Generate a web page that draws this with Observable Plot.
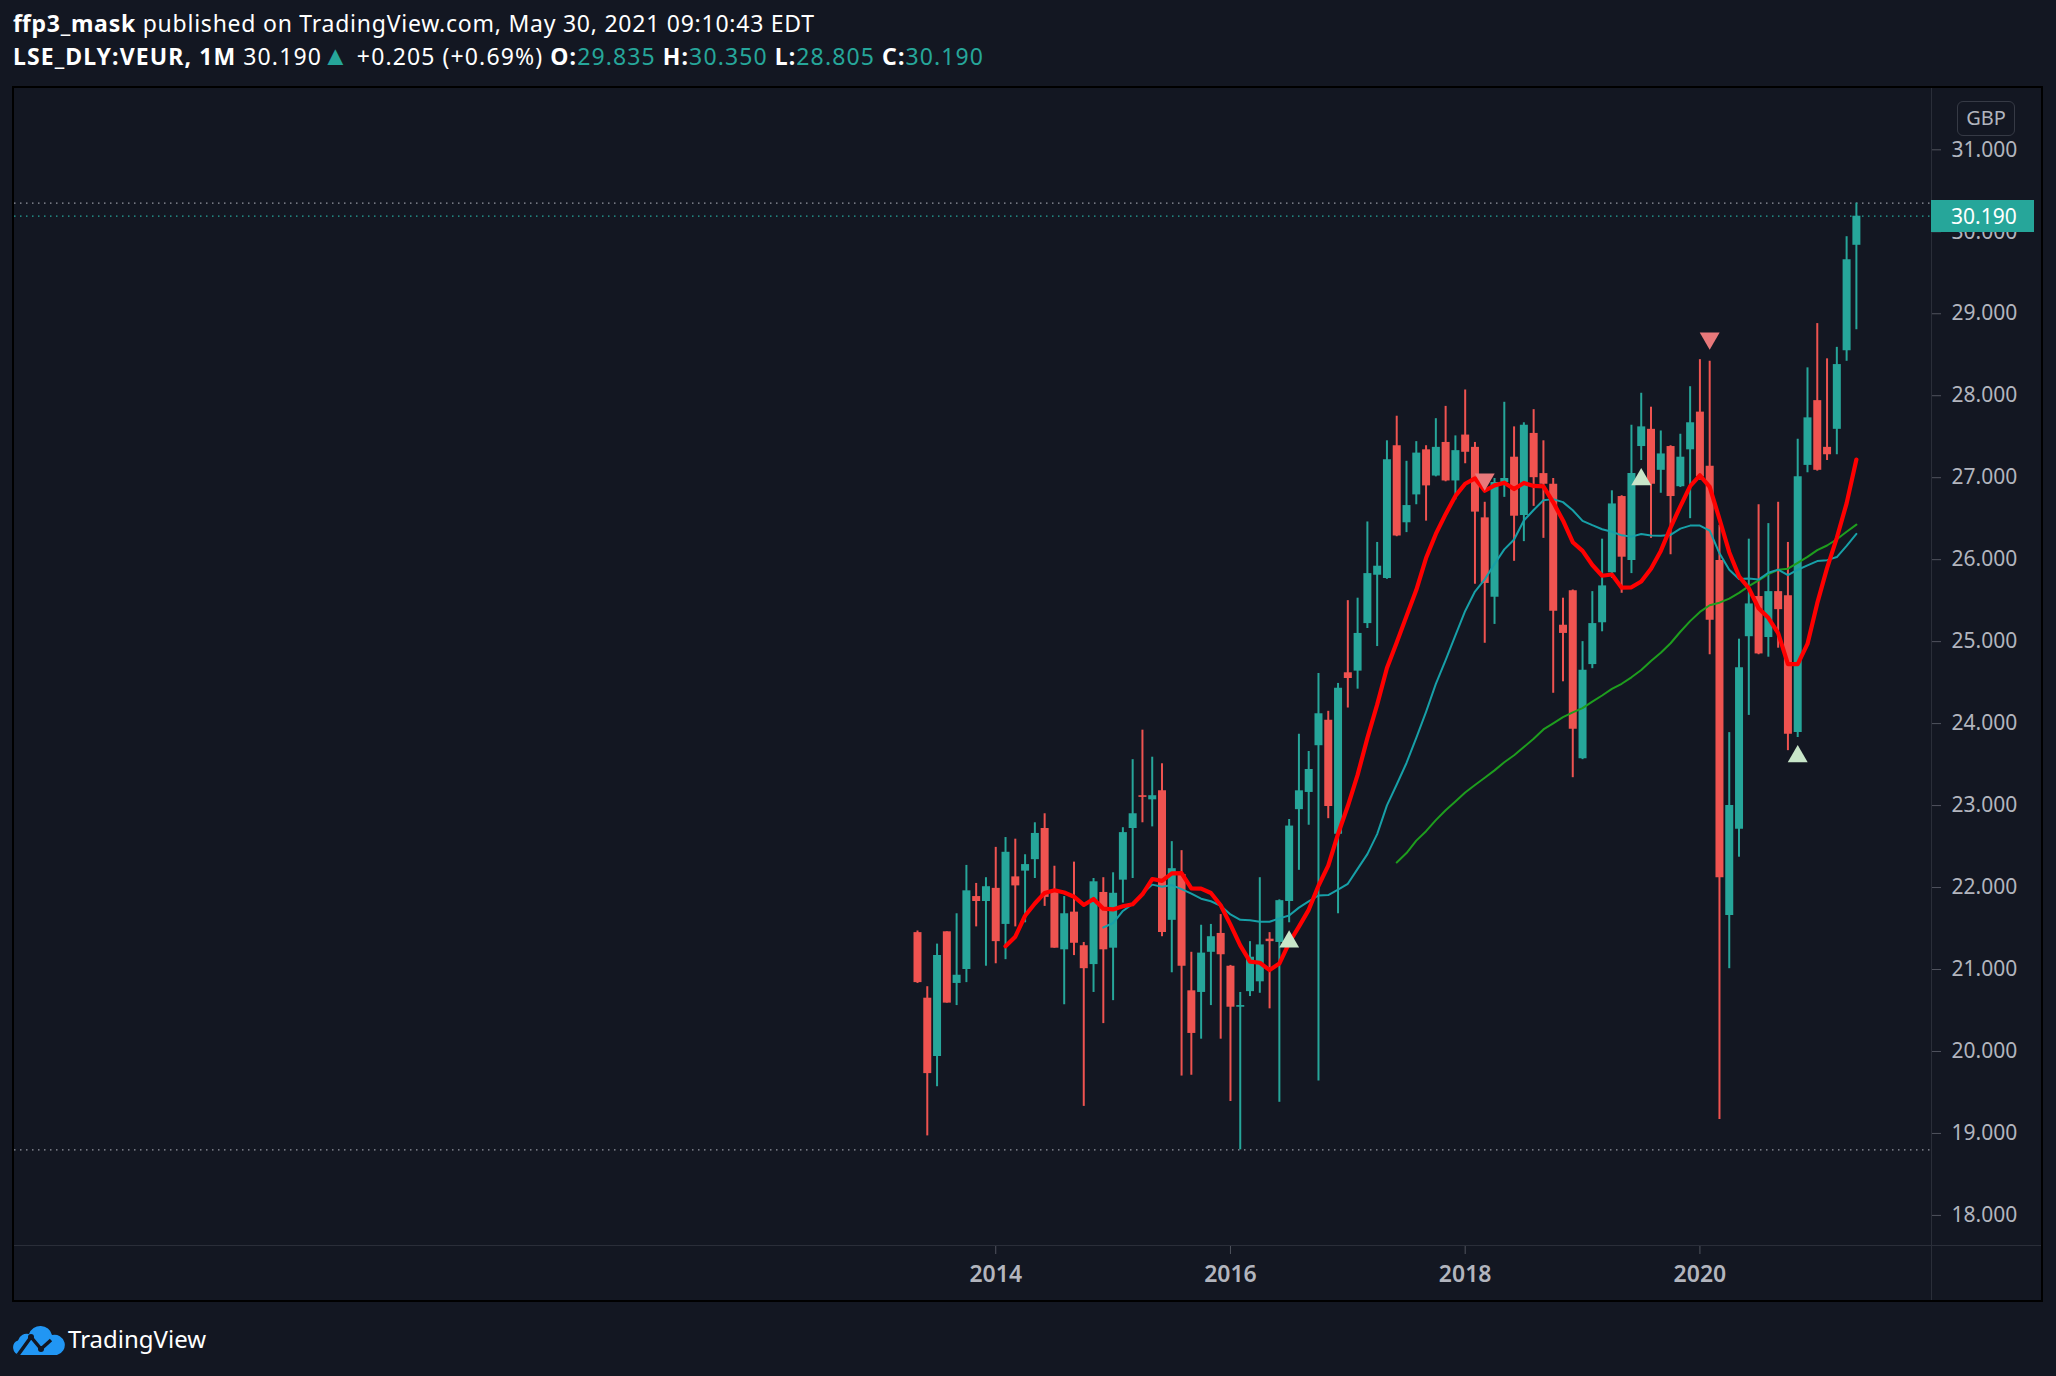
<!DOCTYPE html>
<html><head><meta charset="utf-8">
<script src="https://cdn.jsdelivr.net/npm/d3@7"></script>
<script src="https://cdn.jsdelivr.net/npm/@observablehq/plot@0.6"></script>
<style>
html,body{margin:0;padding:0;background:#131722;}
body{width:2056px;height:1376px;position:relative;overflow:hidden;font-family:"Noto Sans","Open Sans",sans-serif;}
#hdr{position:absolute;left:0;top:0;}
#frame{position:absolute;left:12px;top:86px;width:2031px;height:1216px;border:2px solid #000;box-sizing:border-box;}
#chart{position:absolute;left:14px;top:88px;}
.sepV{position:absolute;left:1931px;top:88px;width:1px;height:1212px;background:#2a2e39;}
.sepH{position:absolute;left:14px;top:1245px;width:2027px;height:1px;background:#2a2e39;}
#gbp{position:absolute;left:1957px;top:101px;width:58px;height:35px;box-sizing:border-box;border:1.5px solid #363a45;border-radius:6px;color:#b2b5be;font-size:20px;line-height:32px;text-align:center;}
#last{position:absolute;left:1931px;width:103px;height:32px;background:#26a69a;color:#fff;font-size:21px;line-height:32px;box-sizing:border-box;padding-left:20px;}
#logo{position:absolute;left:13px;top:1322px;}
#chart svg [aria-label="x-axis tick label"] text{font-weight:600;}
</style>
</head><body>
<svg id="hdr" width="2056" height="80" style="white-space:pre">
  <text x="13" y="32" font-size="23" fill="#ffffff" textLength="801" lengthAdjust="spacing" font-family="Noto Sans, Open Sans, sans-serif"><tspan font-weight="700">ffp3_mask</tspan> published on TradingView.com, May 30, 2021 09:10:43 EDT</text>
  <text x="13" y="65" font-size="23" fill="#ffffff" textLength="970" lengthAdjust="spacing" font-family="Noto Sans, Open Sans, sans-serif"><tspan font-weight="700">LSE_DLY:VEUR, 1M</tspan>  30.190<tspan fill="#26a69a" font-size="27">▲</tspan> +0.205 (+0.69%) <tspan font-weight="700">O:</tspan><tspan fill="#26a69a">29.835</tspan> <tspan font-weight="700">H:</tspan><tspan fill="#26a69a">30.350</tspan> <tspan font-weight="700">L:</tspan><tspan fill="#26a69a">28.805</tspan> <tspan font-weight="700">C:</tspan><tspan fill="#26a69a">30.190</tspan></text>
</svg>
<div id="frame"></div>
<div id="chart"></div>
<div class="sepV"></div>
<div class="sepH"></div>
<div id="gbp">GBP</div>
<div id="last"></div>
<svg id="logo" width="200" height="40">
  <path fill="#2196f3" d="M7 33 A7.5 7.5 0 0 1 5 18.5 A9 9 0 0 1 16 12 A12 12 0 0 1 39 13 A10 10 0 0 1 44 33 Z"/>
  <polyline points="5,33 18,15 28,27 38,18" fill="none" stroke="#131722" stroke-width="3.5" stroke-linejoin="round"/>
  <circle cx="18" cy="15" r="3" fill="#131722"/>
  <circle cx="28" cy="27" r="3" fill="#131722"/>
  <text x="55" y="26" font-size="24" fill="#ffffff" font-family="Noto Sans, Open Sans, sans-serif">TradingView</text>
</svg>
<script>
// Monthly bars of LSE_DLY:VEUR, first bar = May 2013
const startYear = 2013, startMonth = 5;
const open  = [21.45,20.65,19.94,21.46,20.83,21.00,21.89,21.83,21.99,21.55,
               22.13,22.20,22.34,22.72,21.95,21.24,21.70,21.29,21.06,21.94,
               21.26,22.09,22.72,23.12,23.07,23.18,21.60,22.16,20.74,20.72,
               21.21,21.44,21.04,20.54,20.73,20.85,21.37,21.33,21.83,22.95,
               23.16,23.73,24.04,22.65,24.62,24.64,25.22,25.81,25.77,27.39,
               26.45,26.79,27.34,27.02,27.43,26.96,27.52,27.37,26.51,25.54,
               26.94,27.25,26.54,27.54,27.05,26.92,25.20,25.62,23.57,24.72,
               25.23,25.84,26.77,25.99,27.38,27.59,27.09,27.38,26.89,27.34,
               27.80,27.14,25.99,21.66,22.71,25.06,25.55,25.05,25.61,25.56,
               23.89,27.15,27.94,27.37,27.59,28.55,29.835];
const high  = [21.47,20.79,21.31,21.46,21.68,22.27,22.05,22.12,22.49,22.61,
               22.59,22.40,22.79,22.90,22.26,21.89,22.31,21.33,22.11,22.12,
               22.18,22.73,23.56,23.92,23.59,23.51,22.56,22.45,21.21,21.54,
               21.55,21.67,21.05,20.72,21.34,22.12,21.45,21.85,22.83,23.87,
               23.66,24.61,24.15,24.49,25.50,25.53,26.46,26.21,27.45,27.75,
               27.20,27.44,27.39,27.72,27.87,27.51,28.07,27.43,26.70,26.99,
               27.92,27.62,27.67,27.83,27.45,26.99,25.53,25.63,25.00,25.61,
               26.25,26.84,26.78,27.64,28.03,27.86,27.57,27.39,27.53,28.11,
               28.44,28.42,26.42,23.89,25.03,26.25,26.67,26.44,26.70,26.21,
               27.47,28.34,28.88,28.45,28.59,29.94,30.35];
const low   = [20.83,18.97,19.57,20.59,20.56,20.84,21.52,21.04,21.07,21.12,
               21.52,21.57,22.11,21.77,21.26,20.57,21.17,19.33,20.72,20.34,
               20.62,21.81,22.11,22.79,22.74,21.40,20.96,19.70,19.71,20.15,
               20.56,20.15,19.39,18.80,20.67,20.71,20.52,19.38,21.57,22.21,
               22.76,19.64,22.84,21.68,24.19,24.42,25.16,24.94,25.76,26.28,
               26.33,26.67,26.47,27.01,26.95,26.73,27.17,25.70,24.98,25.21,
               26.76,25.98,26.22,26.65,26.26,24.37,24.51,23.34,23.56,24.67,
               25.12,25.77,25.59,25.83,27.21,26.26,26.81,26.06,26.88,26.50,
               26.97,24.84,19.17,21.01,22.37,24.10,24.84,24.81,24.92,23.67,
               23.83,27.06,27.08,27.21,27.28,28.42,28.805];
const close = [20.84,19.73,21.17,20.59,20.93,21.96,21.83,22.01,21.34,22.43,
               22.02,22.28,22.66,21.88,21.26,21.68,21.32,21.01,22.07,21.24,
               21.93,22.67,22.90,23.10,23.12,21.45,22.23,21.04,20.22,21.20,
               21.40,21.18,20.54,20.56,21.15,21.30,21.34,21.84,22.75,23.18,
               23.44,24.12,22.99,24.43,24.55,25.10,25.83,25.92,27.22,26.29,
               26.66,27.30,26.90,27.37,26.96,27.33,27.31,26.58,25.71,26.94,
               26.99,26.53,27.64,27.00,26.92,25.37,25.10,23.93,24.65,25.22,
               25.68,26.68,26.03,27.05,27.62,26.92,27.29,26.77,27.25,27.67,
               27.01,25.26,22.12,23.00,24.68,25.46,24.85,25.61,25.39,23.87,
               27.01,27.73,27.09,27.28,28.38,29.66,30.19];
const upSignals   = ["2016-07","2019-07","2020-11"];
const downSignals = ["2018-03","2020-02"];
const yearTicks   = ["2014","2016","2018","2020"];
const priceTicks  = [18,19,20,21,22,23,24,25,26,27,28,29,30,31];
const maPeriods   = [10,20,50];

const monthIndex = s => { const [y,m] = s.split("-").map(Number); return (y-startYear)*12 + (m-startMonth); };
const bars = close.map((c,i)=>({i, open:open[i], high:high[i], low:low[i], close:c, col: c>=open[i] ? "#26a69a" : "#ef5350"}));
const last = bars[bars.length-1];
const hi = d3.max(high), lo = d3.min(low);
const upBars = upSignals.map(s=>bars[monthIndex(s)]);
const downBars = downSignals.map(s=>bars[monthIndex(s)]);
const yearIdx = new Map(yearTicks.map(y=>[monthIndex(y+"-01"), y]));

const chart = Plot.plot({
  width: 2027, height: 1212,
  marginLeft: 0, marginRight: 110, marginTop: 0, marginBottom: 55,
  style: {background:"#131722", color:"#b2b5be", fontFamily:"Noto Sans, Open Sans, sans-serif", overflow:"visible"},
  x: {type:"linear", domain:[-92.33, 103.68], axis:null, label:null},
  y: {domain:[17.633, 31.748], axis:null, label:null},
  color: {type:"identity"},
  marks: [
    Plot.ruleY([hi, lo], {stroke:"#9598a1", strokeWidth:1.3, strokeDasharray:"1.5,4.5"}),
    Plot.ruleY([last.close], {stroke:"#26a69a", strokeWidth:1.3, strokeDasharray:"1.5,4.5"}),
    Plot.ruleX(bars, {x:"i", y1:"low", y2:"high", stroke:"col", strokeWidth:2}),
    Plot.ruleX(bars, {x:"i", y1:"open", y2:"close", stroke:"col", strokeWidth:8}),
    Plot.lineY(bars, Plot.windowY({k:maPeriods[2], anchor:"end", strict:true}, {x:"i", y:"close", stroke:"#1e9e1e", strokeWidth:2})),
    Plot.lineY(bars, Plot.windowY({k:maPeriods[1], anchor:"end", strict:true}, {x:"i", y:"close", stroke:"#17a0a8", strokeWidth:2})),
    Plot.lineY(bars, Plot.windowY({k:maPeriods[0], anchor:"end", strict:true}, {x:"i", y:"close", stroke:"#ff0000", strokeWidth:4.2})),
    Plot.dot(upBars, {x:"i", y:"low", dy:19, symbol:"triangle", r:7.4, fill:"#c8e6c9", stroke:"none"}),
    Plot.dot(downBars, {x:"i", y:"high", dy:-23, symbol:"triangle", rotate:180, r:7.4, fill:"#e8787a", stroke:"none"}),
    Plot.axisY({anchor:"right", label:null, ticks:priceTicks, tickSize:9, tickPadding:11, tickFormat:d=>d.toFixed(3), fontSize:21, stroke:"#50535e", fill:"#b2b5be"}),
    Plot.axisX({anchor:"bottom", label:null, ticks:[...yearIdx.keys()], tickSize:9, tickPadding:11, tickFormat:i=>yearIdx.get(i), fontSize:23, fontWeight:600, stroke:"#50535e", fill:"#b2b5be"})
  ]
});
document.getElementById("chart").appendChild(chart);
const lastY = 88 + chart.scale("y").apply(last.close);
const lab = document.getElementById("last");
lab.style.top = (lastY - 16) + "px";
lab.textContent = last.close.toFixed(3);
</script>
</body></html>
